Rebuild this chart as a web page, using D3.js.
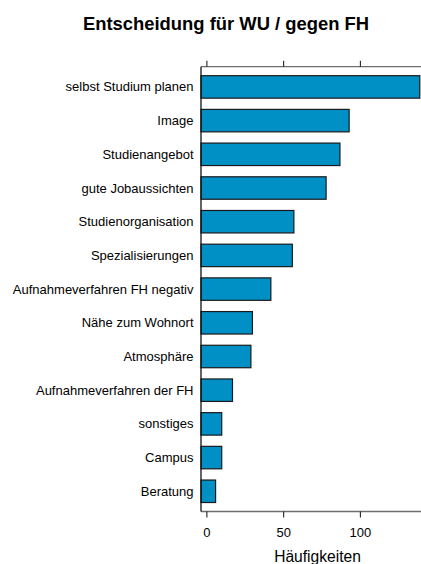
<!DOCTYPE html>
<html>
<head>
<meta charset="utf-8">
<script src="https://cdn.jsdelivr.net/npm/d3@7"></script>
<style>
  html, body { margin: 0; padding: 0; background: #fff; }
  svg { display: block; font-family: "Liberation Sans", Arial, Helvetica, sans-serif; }
</style>
</head>
<body>
<svg id="chart" width="421" height="564"></svg>
<script>
const categories = [
  "selbst Studium planen", "Image", "Studienangebot", "gute Jobaussichten",
  "Studienorganisation", "Spezialisierungen", "Aufnahmeverfahren FH negativ",
  "Nähe zum Wohnort", "Atmosphäre", "Aufnahmeverfahren der FH",
  "sonstiges", "Campus", "Beratung"
];
const values = [139, 93, 87, 78, 57, 56, 42, 30, 29, 17, 10, 10, 6];
const tickValues = [0, 50, 100];
const title = "Entscheidung für WU / gegen FH";
const xLabel = "Häufigkeiten";

const svg = d3.select("#chart");
const panel = { left: 201, right: 421, top: 66.7, bottom: 511.5 };

const x = d3.scaleLinear().domain([-3.5, 139.8]).range([panel.left, panel.right]);
const y = d3.scaleBand().domain(categories)
  .range([panel.top, panel.bottom])
  .paddingInner(1 / 3).paddingOuter(0.2667);

// title
svg.append("text")
  .attr("x", 226).attr("y", 30)
  .attr("text-anchor", "middle")
  .style("font-size", "18.4px").style("font-weight", "bold")
  .attr("fill", "#000")
  .text(title);

// bars (start at panel left edge)
const data = categories.map((c, i) => ({ c, v: values[i] }));
svg.append("g").selectAll("rect").data(data).join("rect")
  .attr("x", x.range()[0])
  .attr("y", d => y(d.c))
  .attr("width", d => x(d.v) - x.range()[0])
  .attr("height", y.bandwidth())
  .attr("fill", "#0090c6")
  .attr("stroke", "#1a1a1a")
  .attr("stroke-width", 1.2);

// panel border
svg.append("line").attr("x1", panel.left).attr("x2", panel.right + 5)
  .attr("y1", panel.top).attr("y2", panel.top)
  .attr("stroke", "#6e6e6e").attr("stroke-width", 1.3);
svg.append("line").attr("x1", panel.left).attr("x2", panel.right + 5)
  .attr("y1", panel.bottom).attr("y2", panel.bottom)
  .attr("stroke", "#6e6e6e").attr("stroke-width", 1.3);
svg.append("line").attr("x1", panel.left).attr("x2", panel.left)
  .attr("y1", panel.top).attr("y2", panel.bottom)
  .attr("stroke", "#111").attr("stroke-width", 1.3);

// top axis: ticks only
const topAxis = d3.axisTop(x).tickValues(tickValues).tickSize(6).tickFormat("");
const gTop = svg.append("g").attr("transform", `translate(0,${panel.top})`).call(topAxis);
gTop.select(".domain").remove();
gTop.selectAll(".tick line").attr("stroke", "#222").attr("stroke-width", 1.1);

// bottom axis
const bottomAxis = d3.axisBottom(x).tickValues(tickValues).tickSize(6).tickPadding(10).tickFormat(d3.format("d"));
const gBot = svg.append("g").attr("transform", `translate(0,${panel.bottom})`).call(bottomAxis);
gBot.select(".domain").remove();
gBot.selectAll(".tick line").attr("stroke", "#222").attr("stroke-width", 1.1);
gBot.selectAll(".tick text")
  .style("font-size", "13px")
  .style("font-family", "Liberation Sans, Arial, sans-serif")
  .attr("fill", "#000");

// category labels
svg.append("g").selectAll("text").data(categories).join("text")
  .attr("x", 193.5)
  .attr("y", d => y(d) + y.bandwidth() / 2)
  .attr("dy", "0.35em")
  .attr("text-anchor", "end")
  .style("font-size", "13px")
  .attr("fill", "#000")
  .text(d => d);

// x label
svg.append("text")
  .attr("x", 317.5).attr("y", 562)
  .attr("text-anchor", "middle")
  .style("font-size", "15.6px")
  .attr("fill", "#000")
  .text(xLabel);
</script>
</body>
</html>
